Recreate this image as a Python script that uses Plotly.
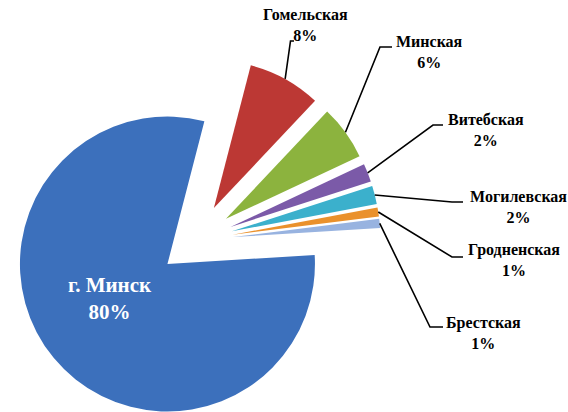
import math
import plotly.graph_objects as go

# ---- data ----
regions = ["Гомельская", "Минская", "Витебская", "Могилевская", "Гродненская", "Брестская", "г. Минск"]
shares = [8, 6, 2, 2, 1, 1, 80]
colors = ["#BC3834", "#8CB33E", "#7B5AA8", "#3BB0CC", "#EA912C", "#98B3E0", "#3C70BC"]

# ---- layout parameters (pixels) ----
W, H = 568, 412
R = 147.5            # pie radius
O = (196, 240.5)     # un-exploded pie centre
explode = 37         # explosion distance of every slice
rotation = 14.5      # start angle of first slice (clockwise from 12 o'clock)

# label anchor points (centre of text block) and elbow points of leader lines
label_pos = [(306, 25), (429, 52), (486, 130), (518, 207), (514, 260), (483, 333)]
elbows = [((290.5, 41), (294, 41)), ((380, 47), (392, 47)), ((433, 125), (443, 125)),
          ((452, 202), (463, 202)), ((452, 257), (463, 257)), ((430, 327), (443, 327))]
main_label_pos = (110, 298)

total = sum(shares)
mids = []
acc = 0
for v in shares:
    mids.append(rotation + (acc + v / 2) / total * 360)
    acc += v

fig = go.Figure()
vertices = []
for i in range(len(shares)):
    a = math.radians(mids[i])
    cx = O[0] + explode * math.sin(a)
    cy = O[1] - explode * math.cos(a)
    vertices.append((cx, cy))
    slice_colors = [colors[j] if j == i else "rgba(0,0,0,0)" for j in range(len(shares))]
    fig.add_trace(go.Pie(
        labels=regions, values=shares, sort=False, direction="clockwise", rotation=rotation,
        marker=dict(colors=slice_colors, line=dict(width=0)),
        textinfo="none", hoverinfo="label+percent", showlegend=False,
        domain=dict(x=[max(0, (cx - R) / W), min(1, (cx + R) / W)],
                    y=[max(0, 1 - (cy + R) / H), min(1, 1 - (cy - R) / H)]),
    ))

def px(x, y):
    return x / W, 1 - y / H

shapes = []
annotations = []
font_family = "Times New Roman, Liberation Serif, DejaVu Serif, serif"
for i in range(6):
    a = math.radians(mids[i])
    vx, vy = vertices[i]
    sx, sy = vx + R * math.sin(a), vy - R * math.cos(a)
    (ex, ey), (hx, hy) = elbows[i]
    p0, p1, p2 = px(sx, sy), px(ex, ey), px(hx, hy)
    shapes.append(dict(type="path", xref="paper", yref="paper",
                       path=f"M {p0[0]} {p0[1]} L {p1[0]} {p1[1]} L {p2[0]} {p2[1]}",
                       line=dict(color="black", width=1.6), layer="above"))
    lx, ly = px(*label_pos[i])
    annotations.append(dict(x=lx, y=ly, xref="paper", yref="paper", xanchor="center", yanchor="middle",
                            text=f"<b>{regions[i]}<br>{shares[i]}%</b>", showarrow=False, align="center",
                            font=dict(family=font_family, size=16, color="black")))

mx, my = px(*main_label_pos)
annotations.append(dict(x=mx, y=my, xref="paper", yref="paper", xanchor="center", yanchor="middle",
                        text=f"<b>{regions[6]}<br>{shares[6]}%</b>", showarrow=False, align="center",
                        font=dict(family=font_family, size=21, color="white")))

fig.update_layout(width=W, height=H, margin=dict(l=0, r=0, t=0, b=0),
                  paper_bgcolor="white", plot_bgcolor="white",
                  shapes=shapes, annotations=annotations, showlegend=False)
fig.write_html("out.html", config={"displayModeBar": False},
               post_script="document.body.style.margin='0px';document.body.style.overflow='hidden';")
